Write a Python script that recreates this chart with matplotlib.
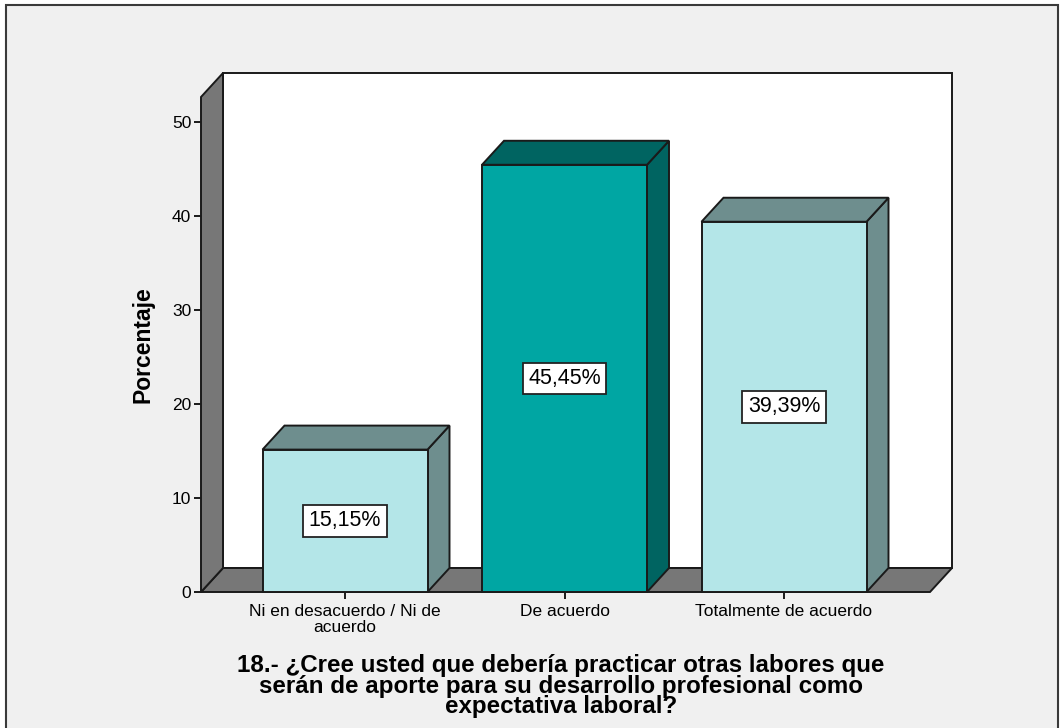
import matplotlib
matplotlib.use("Agg")
import matplotlib.pyplot as plt
from matplotlib.patches import Polygon, Rectangle

# ---------------- data ----------------
categories = ["Ni en desacuerdo / Ni de\nacuerdo", "De acuerdo", "Totalmente de acuerdo"]
values = [15.15, 45.45, 39.39]
value_labels = ["15,15%", "45,45%", "39,39%"]
yticks = [0, 10, 20, 30, 40, 50]
ylabel = "Porcentaje"
title = ("18.- ¿Cree usted que debería practicar otras labores que\n"
         "serán de aporte para su desarrollo profesional como\n"
         "expectativa laboral?")

# ---------------- style ----------------
face_colors = ["#b4e6e8", "#00a6a3", "#b4e6e8"]
shade_colors = ["#6e8e8e", "#006461", "#6e8e8e"]
wall_color = "#777777"
edge = "#1a1a1a"
font = "Liberation Sans"

W, H = 1061, 728
fig = plt.figure(figsize=(W / 100, H / 100), dpi=100, facecolor="white")

# outer frame
fig.patches.append(Rectangle((6 / W, -0.05), 1052 / W, 1 - 5 / H + 0.05,
                             transform=fig.transFigure, facecolor="#f0f0f0",
                             edgecolor="#3a3a3a", linewidth=1.5, zorder=-5))

# axes: left edge = front wall line, bottom = floor front, top = back wall top
px_left, px_right, px_bottom, px_top = 201, 952, 592, 73
ax = fig.add_axes([px_left / W, 1 - px_bottom / H,
                   (px_right - px_left) / W, (px_bottom - px_top) / H])
ax.set_zorder(2)
ax.set_facecolor("none")
for s in ax.spines.values():
    s.set_visible(False)

x = list(range(len(categories)))
x_unit_px = 219.5
y_unit_px = 9.4
xmin = x[0] - (345 - px_left) / x_unit_px
xmax = x[-1] + (px_right - 784) / x_unit_px
ytop = (px_bottom - px_top) / y_unit_px
ax.set_xlim(xmin, xmax)
ax.set_ylim(0, ytop)

dx = 22 / x_unit_px
dy = 24 / y_unit_px
bw = 165 / x_unit_px
lw = 1.4

def poly(pts, fc, z):
    ax.add_patch(Polygon(pts, closed=True, facecolor=fc, edgecolor=edge,
                         linewidth=lw, joinstyle="miter", clip_on=False, zorder=z))

# back wall
poly([(xmin + dx, dy), (xmax, dy), (xmax, ytop), (xmin + dx, ytop)], "white", 1)
# floor
poly([(xmin, 0), (xmin + dx, dy), (xmax, dy), (xmax - dx, 0)], wall_color, 2)
# left wall
poly([(xmin, 0), (xmin + dx, dy), (xmin + dx, ytop), (xmin, ytop - dy)], wall_color, 2)

# bars
for xi, v, fc, sc, lab in zip(x, values, face_colors, shade_colors, value_labels):
    l, r = xi - bw / 2, xi + bw / 2
    poly([(r, 0), (r + dx, dy), (r + dx, v + dy), (r, v)], sc, 3)
    poly([(l, v), (l + dx, v + dy), (r + dx, v + dy), (r, v)], sc, 3)
    poly([(l, 0), (r, 0), (r, v), (l, v)], fc, 4)
    ax.text(xi, v / 2, lab, ha="center", va="center", fontsize=15.5, family=font,
            color="black", zorder=6,
            bbox=dict(boxstyle="square,pad=0.25", facecolor="white",
                      edgecolor="#222222", linewidth=1.3))

# ticks
ax.set_yticks(yticks)
ax.set_yticklabels([str(t) for t in yticks], fontsize=12.5, family=font)
ax.set_xticks(x)
ax.set_xticklabels(categories, fontsize=12.5, family=font, linespacing=1.0)
ax.tick_params(axis="y", direction="out", length=5, width=1.4, color=edge, pad=2)
ax.tick_params(axis="x", direction="out", length=5, width=1.4, color=edge, pad=4)

fig.text(143 / W, 1 - 345 / H, ylabel, rotation=90, ha="center", va="center",
         fontsize=16.5, fontweight="bold", family=font)
fig.text(561 / W, 1 - 686 / H, title, ha="center", va="center",
         multialignment="center", fontsize=17.4, fontweight="bold", family=font,
         linespacing=0.88)

fig.savefig("out.png", dpi=100, facecolor=fig.get_facecolor())
